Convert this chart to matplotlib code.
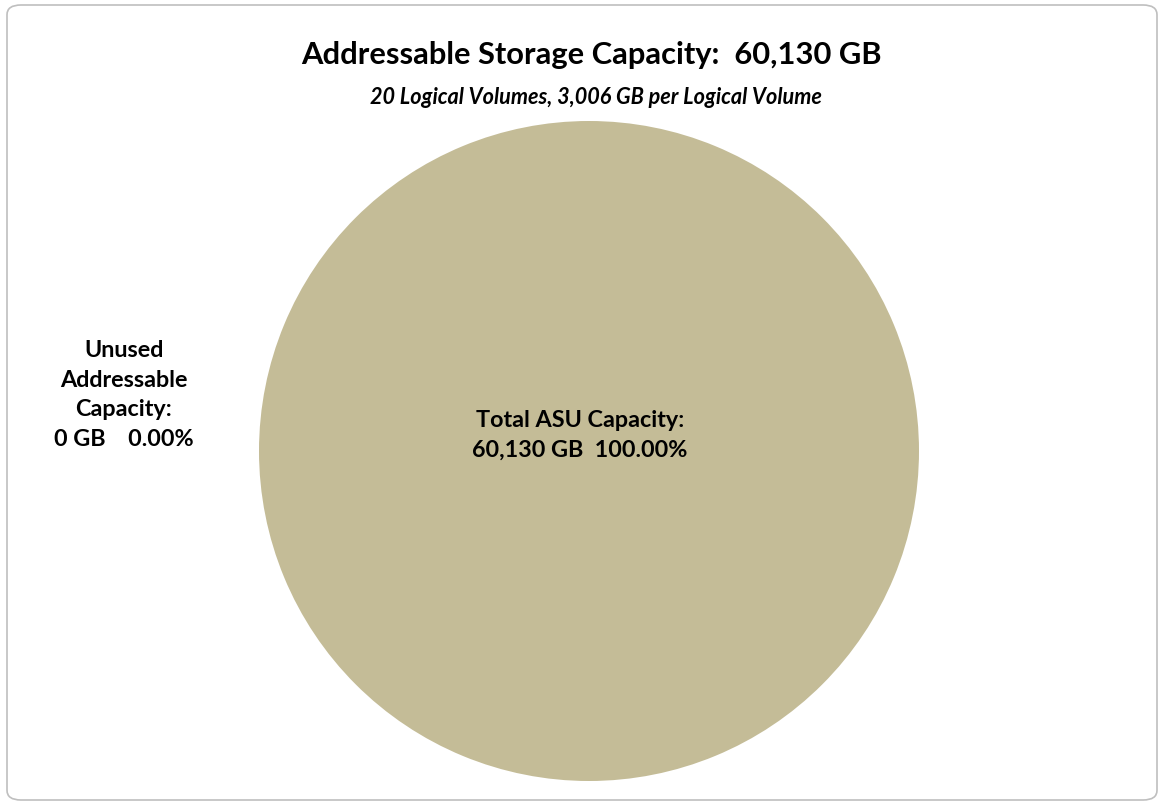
import matplotlib
matplotlib.use("Agg")
import matplotlib.pyplot as plt
from matplotlib.patches import FancyBboxPatch

categories = ["Total ASU Capacity", "Unused Addressable Capacity"]
values_gb = [60130, 0]
percents = [100.00, 0.00]
colors = ["#C4BC97", "#FFFFFF"]
title = "Addressable Storage Capacity:  60,130 GB"
subtitle = "20 Logical Volumes, 3,006 GB per Logical Volume"

W, H = 1164, 807
fig = plt.figure(figsize=(W / 100, H / 100), dpi=100)
fig.patch.set_facecolor("white")

# rounded border
border = FancyBboxPatch((7 / W, 7 / H), (W - 14) / W, (H - 12) / H,
                        boxstyle="round,pad=0,rounding_size=0.012",
                        transform=fig.transFigure, facecolor="none",
                        edgecolor="#BFBFBF", linewidth=1.2, zorder=-1)
fig.patches.append(border)

font = ["Lato", "DejaVu Sans"]

cx, cy, r = 589, 451, 330
ax = fig.add_axes([(cx - r) / W, (H - cy - r) / H, 2 * r / W, 2 * r / H])
ax.pie(values_gb, colors=colors, startangle=90, counterclock=False,
       radius=1, wedgeprops=dict(linewidth=0))
ax.set_xlim(-1, 1)
ax.set_ylim(-1, 1)
ax.set_aspect("equal")
ax.axis("off")

fig.text(591 / W, 1 - 55 / H, title, ha="center", va="center",
         fontsize=22.2, fontweight="bold", family=font)
fig.text(596 / W, 1 - 97 / H, subtitle, ha="center", va="center",
         fontsize=15.6, fontweight="bold", style="italic", family=font)

lab0 = f"{categories[0]}:\n{values_gb[0]:,} GB  {percents[0]:.2f}%"
fig.text(580 / W, 1 - 435 / H, lab0, ha="center", va="center",
         fontsize=16.8, fontweight="bold", family=font, linespacing=1.5)
lab1 = f"Unused\nAddressable\nCapacity:\n{values_gb[1]:,} GB    {percents[1]:.2f}%"
fig.text(124 / W, 1 - 395 / H, lab1, ha="center", va="center",
         fontsize=16.8, fontweight="bold", family=font, linespacing=1.5)

fig.savefig("out.png", dpi=100)
